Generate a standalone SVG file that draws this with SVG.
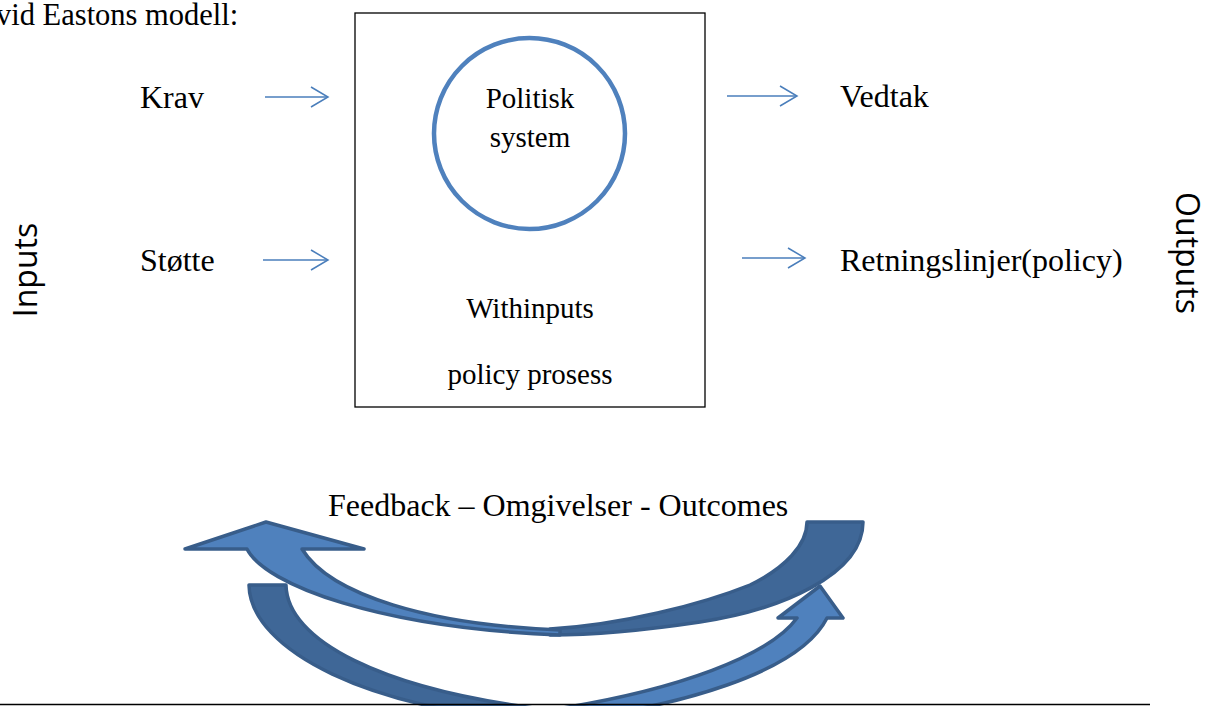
<svg xmlns="http://www.w3.org/2000/svg" width="1212" height="706" viewBox="0 0 1212 706">
  <defs>
    <style>
      .serif { font-family: "Liberation Serif", "Times New Roman", serif; fill: #000; }
      .lbl { font-size: 32px; }
      .inner { font-size: 29px; text-anchor: middle; }
      .side { font-family: "Open Sans", "Liberation Sans", sans-serif; font-size: 32px; fill: #000; text-anchor: middle; }
      .conn { stroke: #4a7ebb; stroke-width: 1.5; fill: none; }
      .front { fill: #4f81bd; stroke: #385d8a; stroke-width: 3.5; stroke-linejoin: round; }
      .back { fill: #3f6797; stroke: #385d8a; stroke-width: 3.5; stroke-linejoin: round; }
    </style>
    <marker id="open" viewBox="0 0 20 22" refX="18" refY="11" markerWidth="20" markerHeight="22" markerUnits="userSpaceOnUse" orient="auto">
      <path d="M1,1 L18,11 L1,21" fill="none" stroke="#4a7ebb" stroke-width="1.5"/>
    </marker>
  </defs>

  <rect width="1212" height="706" fill="#fff"/>

  <!-- heading -->
  <text id="heading" class="serif" x="-4" y="25" font-size="30.5">vid Eastons modell:</text>

  <!-- side captions -->
  <g id="inputs">
    <text class="side" transform="translate(37,270) rotate(-90)">Inputs</text>
  </g>
  <g id="outputs">
    <text class="side" transform="translate(1176,253) rotate(90)">Outputs</text>
  </g>

  <!-- input labels -->
  <g id="krav"><text class="serif lbl" x="140" y="108">Krav</text></g>
  <g id="stotte"><text class="serif lbl" x="140" y="271">Støtte</text></g>

  <!-- output labels -->
  <g id="vedtak"><text class="serif lbl" x="840" y="107">Vedtak</text></g>
  <g id="retningslinjer"><text class="serif lbl" x="840" y="271">Retningslinjer(policy)</text></g>

  <!-- political system box -->
  <g id="system">
    <rect x="355" y="13" width="350" height="394" fill="#fff" stroke="#000" stroke-width="1.3"/>
    <circle cx="529.5" cy="133.5" r="95.5" fill="none" stroke="#4f81bd" stroke-width="4.5"/>
    <text class="serif inner" x="530" y="108">Politisk</text>
    <text class="serif inner" x="530" y="147">system</text>
    <text class="serif inner" x="530" y="318">Withinputs</text>
    <text class="serif inner" x="530" y="384">policy prosess</text>
  </g>

  <!-- connectors -->
  <g id="connectors">
    <line class="conn" x1="265" y1="97" x2="328" y2="97" marker-end="url(#open)"/>
    <line class="conn" x1="263" y1="260" x2="328" y2="260" marker-end="url(#open)"/>
    <line class="conn" x1="727" y1="96" x2="797" y2="96" marker-end="url(#open)"/>
    <line class="conn" x1="742" y1="258" x2="805" y2="258" marker-end="url(#open)"/>
  </g>

  <!-- feedback loop -->
  <g id="feedback">
    <text class="serif lbl" x="328" y="516">Feedback – Omgivelser - Outcomes</text>
    <!-- lower curved arrow: back half, then front half with head -->
    <path class="back" d="M249,585 L286,585 C287,640 380,690 550,710 L550,722 C370,712 250,650 249,585 Z"/>
    <path class="front" d="M778,618 L820,586 L843,618 L827,618 C800,672 680,708 550,722 L550,710 C680,690 770,655 797,618 Z"/>
    <!-- upper curved arrow: back half, then front half with head -->
    <path class="back" d="M807,522 L863,522 C863,575 780,610 700,622 C640,631 590,635 550,635 L550,629 C620,625 700,605 750,585 C785,568 807,545 807,522 Z"/>
    <path class="front" d="M185,549 L266,522 L364,549 L302,549 C330,595 430,625 560,630 L560,635 C380,628 265,585 247,549 Z"/>
  </g>

  <!-- rule -->
  <line id="rule" x1="0" y1="704.5" x2="1150" y2="704.5" stroke="#000" stroke-width="1.4"/>
</svg>
